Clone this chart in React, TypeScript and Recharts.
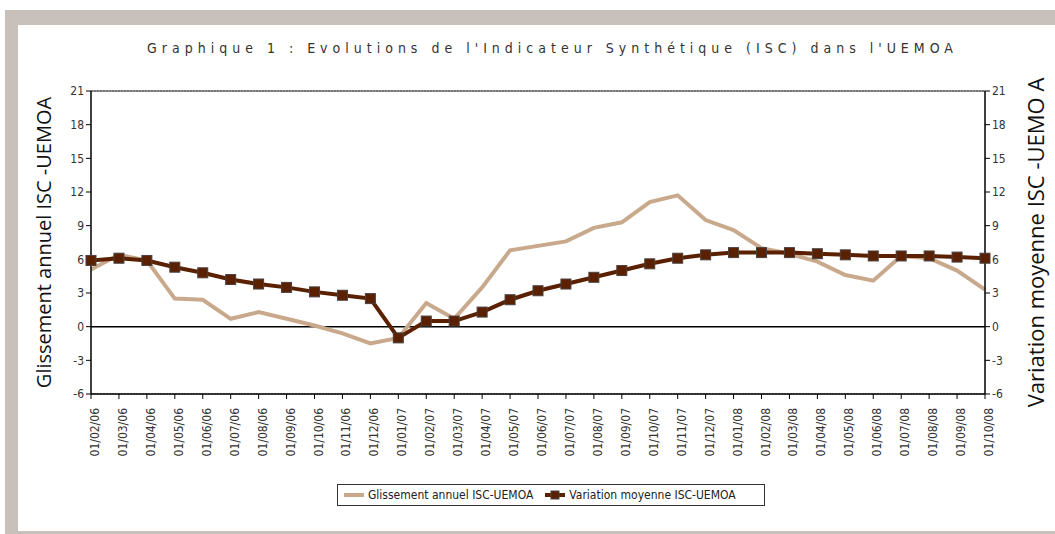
import React from 'react';
import { LineChart, Line, XAxis, YAxis, CartesianGrid, ReferenceLine, Legend } from 'recharts';

const months = [
  '01/02/06','01/03/06','01/04/06','01/05/06','01/06/06','01/07/06','01/08/06','01/09/06','01/10/06','01/11/06','01/12/06',
  '01/01/07','01/02/07','01/03/07','01/04/07','01/05/07','01/06/07','01/07/07','01/08/07','01/09/07','01/10/07','01/11/07','01/12/07',
  '01/01/08','01/02/08','01/03/08','01/04/08','01/05/08','01/06/08','01/07/08','01/08/08','01/09/08','01/10/08',
];

const glissement = [
  5.1, 6.4, 5.9, 2.5, 2.4, 0.7, 1.3, 0.7, 0.1, -0.6, -1.5,
  -1.0, 2.1, 0.7, 3.5, 6.8, 7.2, 7.6, 8.8, 9.3, 11.1, 11.7, 9.5,
  8.6, 7.0, 6.5, 5.8, 4.6, 4.1, 6.3, 6.1, 5.0, 3.3,
];

const variation = [
  5.9, 6.1, 5.9, 5.3, 4.8, 4.2, 3.8, 3.5, 3.1, 2.8, 2.5,
  -1.0, 0.5, 0.5, 1.3, 2.4, 3.2, 3.8, 4.4, 5.0, 5.6, 6.1, 6.4,
  6.6, 6.6, 6.6, 6.5, 6.4, 6.3, 6.3, 6.3, 6.2, 6.1,
];

const yTicks = [-6, -3, 0, 3, 6, 9, 12, 15, 18, 21];

const data = months.map((m, i) => ({ month: m, g: glissement[i], v: variation[i] }));

const LIGHT = '#c9a98c';
const DARK = '#5a2000';
const FRAME = '#c8c0bb';
const TXT = '#333';

const SquareDot = (props: any) => {
  const { cx, cy } = props;
  if (cx == null || cy == null) return null;
  return <rect x={cx - 5} y={cy - 5} width={10} height={10} fill={DARK} stroke="#4a4040" strokeWidth={1} />;
};

const XTick = (props: any) => {
  const { x, y, payload } = props;
  return (
    <text x={x} y={y + 3} transform={`rotate(-90 ${x + 4} ${y + 3})`} textAnchor="end" fontSize={12} fill={TXT}
      fontFamily="'DejaVu Sans Condensed', 'DejaVu Sans', sans-serif" dominantBaseline="central">
      {payload.value}
    </text>
  );
};

const LegendContent = () => (
  <div style={{
    border: '1px solid #333', height: 20, width: 426, boxSizing: 'content-box', display: 'flex', alignItems: 'center',
    fontFamily: "'DejaVu Sans Condensed', sans-serif", fontSize: 12, color: '#222', background: '#fff',
  }}>
    <svg width={22} height={12} style={{ marginLeft: 6 }}>
      <line x1={0} y1={6} x2={20} y2={6} stroke={LIGHT} strokeWidth={4} />
    </svg>
    <span style={{ marginLeft: 2 }}>Glissement annuel ISC-UEMOA</span>
    <svg width={22} height={12} style={{ marginLeft: 12 }}>
      <line x1={0} y1={6} x2={20} y2={6} stroke={DARK} strokeWidth={4} />
      <rect x={6} y={2} width={8} height={8} fill={DARK} stroke="#4a4040" strokeWidth={1} />
    </svg>
    <span style={{ marginLeft: 2 }}>Variation moyenne ISC-UEMOA</span>
  </div>
);

export default function App() {
  return (
    <div style={{ position: 'fixed', left: 0, top: 0, width: 1055, height: 534, background: '#fff', overflow: 'hidden' }}>
      <div style={{ position: 'absolute', left: 5, top: 10, width: 1050, height: 15, background: FRAME }} />
      <div style={{ position: 'absolute', left: 5, top: 10, width: 13, height: 524, background: FRAME }} />
      <div style={{ position: 'absolute', left: 5, top: 531, width: 1050, height: 3, background: FRAME }} />
      <div style={{
        position: 'absolute', left: 0, width: 1105, top: 40, textAlign: 'center', fontSize: 14, letterSpacing: 5,
        fontFamily: "'DejaVu Sans Condensed', sans-serif", color: TXT,
      }}>
        Graphique 1 : Evolutions de l'Indicateur Synthétique (ISC) dans l'UEMOA
      </div>
      <div style={{ position: 'absolute', left: 0, top: 0 }}>
        <LineChart width={1055} height={534} data={data} margin={{ top: 91, right: 0, bottom: 58, left: 0 }}>
          <CartesianGrid vertical={false} stroke="#777" strokeDasharray="2 1" />
          <XAxis dataKey="month" interval={0} height={60} tick={<XTick />} tickSize={5}
            axisLine={{ stroke: '#000', strokeWidth: 1.5 }} tickLine={{ stroke: '#000' }} />
          <YAxis yAxisId="left" orientation="left" width={91} domain={[-6, 21]} ticks={yTicks} interval={0}
            tick={{ fontSize: 12, fill: TXT, fontFamily: "'DejaVu Sans Condensed', sans-serif" }} tickSize={5}
            axisLine={{ stroke: '#000', strokeWidth: 1.5 }} tickLine={{ stroke: '#000' }}
            label={{ value: 'Glissement annuel ISC -UEMOA', angle: -90, position: 'center', dx: -2, fontSize: 20, fill: '#111', fontFamily: "'Open Sans', sans-serif" }} />
          <YAxis yAxisId="right" orientation="right" width={70} domain={[-6, 21]} ticks={yTicks} interval={0}
            tick={{ fontSize: 12, fill: TXT, fontFamily: "'DejaVu Sans Condensed', sans-serif" }} tickSize={5}
            axisLine={{ stroke: '#000', strokeWidth: 1.5 }} tickLine={{ stroke: '#000' }}
            label={{ value: 'Variation moyenne ISC -UEMO A', angle: -90, position: 'center', dx: 16, fontSize: 22, fill: '#111', fontFamily: "'Open Sans', sans-serif" }} />
          <ReferenceLine yAxisId="left" y={0} stroke="#000" strokeWidth={1.5} />
          <ReferenceLine yAxisId="left" y={21} stroke="#333" strokeWidth={1} />
          <Line yAxisId="left" type="linear" dataKey="g" stroke={LIGHT} strokeWidth={4} dot={false} isAnimationActive={false} name="Glissement annuel ISC-UEMOA" />
          <Line yAxisId="right" type="linear" dataKey="v" stroke={DARK} strokeWidth={4} dot={<SquareDot />} isAnimationActive={false} name="Variation moyenne ISC-UEMOA" />
          <Legend content={<LegendContent />} wrapperStyle={{ position: 'absolute', left: 337, top: 484, width: 430, bottom: 'auto' }} />
        </LineChart>
      </div>
    </div>
  );
}
